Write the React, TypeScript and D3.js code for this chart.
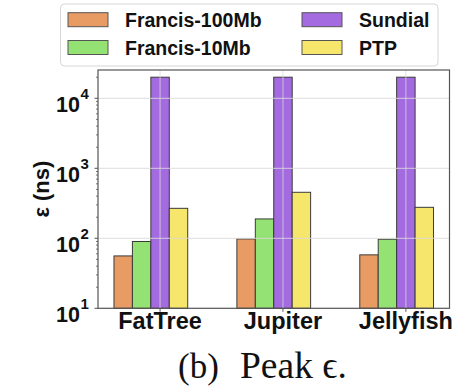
import React from "react";
import * as d3 from "d3";

const categories = ["FatTree", "Jupiter", "Jellyfish"];
const seriesNames = ["Francis-100Mb", "Francis-10Mb", "Sundial", "PTP"];
const francis100 = [56, 98, 58];
const francis10 = [90, 189, 97];
const sundial = [20000, 20000, 20000];
const ptp = [268, 454, 277];
const seriesValues = [francis100, francis10, sundial, ptp];
const colors = ["#E89C64", "#95E274", "#A46BE1", "#F6E76C"];
const majorTicks = [10, 100, 1000, 10000];
const exponents = ["1", "2", "3", "4"];

const W = 475;
const H = 391;
const left = 98;
const right = 449.5;
const top = 70;
const bottom = 308.3;
const barW = 0.15;

export default function App() {
  const x = d3.scaleLinear().domain([-0.505, 2.355]).range([left, right]);
  const y = d3.scaleLog().domain([10, 25350]).range([bottom, top]);
  const minor = y.ticks().filter((t) => !majorTicks.includes(t));
  const font = "'Liberation Sans', Arial, sans-serif";

  const legendItems = seriesNames.map((name, i) => ({
    name,
    color: colors[i],
    col: i < 2 ? 0 : 1,
    row: i % 2,
  }));

  return (
    <svg
      width={W}
      height={H}
      style={{ position: "absolute", left: 0, top: 0, background: "#fff" }}
    >
      {/* bars */}
      {categories.map((c, gi) =>
        seriesValues.map((vals, si) => {
          const cx = gi + (si - 2) * barW;
          const x0 = x(cx - barW / 2);
          const x1 = x(cx + barW / 2);
          return (
            <rect
              key={c + si}
              x={x0}
              y={y(vals[gi])}
              width={x1 - x0}
              height={bottom - y(vals[gi])}
              fill={colors[si]}
              stroke="#3a3a3a"
              strokeWidth={1}
            />
          );
        })
      )}
      {/* grid */}
      {majorTicks.slice(1).map((t) => (
        <line
          key={"gy" + t}
          x1={left}
          x2={right}
          y1={y(t)}
          y2={y(t)}
          stroke="#d8d8d8"
          strokeOpacity={0.7}
          strokeWidth={1.3}
        />
      ))}
      {categories.map((c, gi) => (
        <line
          key={"gx" + c}
          x1={x(gi)}
          x2={x(gi)}
          y1={top}
          y2={bottom}
          stroke="#d8d8d8"
          strokeOpacity={0.6}
          strokeWidth={1.3}
        />
      ))}
      {/* frame */}
      <rect
        x={left}
        y={top}
        width={right - left}
        height={bottom - top}
        fill="none"
        stroke="#555"
        strokeWidth={1.2}
      />
      {/* y ticks */}
      {minor.map((t) => (
        <line
          key={"mt" + t}
          x1={left - 2}
          x2={left}
          y1={y(t)}
          y2={y(t)}
          stroke="#555"
          strokeWidth={0.8}
        />
      ))}
      {majorTicks.map((t, i) => (
        <g key={"yt" + t}>
          <line
            x1={left - 3.5}
            x2={left}
            y1={y(t)}
            y2={y(t)}
            stroke="#555"
            strokeWidth={1}
          />
          <text
            x={80}
            y={y(t) + 13.5}
            textAnchor="end"
            fontFamily={font}
            fontWeight="bold"
            fontSize={21.5}
            fill="#111"
          >
            10
          </text>
          <text
            x={80.5}
            y={y(t) + 1}
            textAnchor="start"
            fontFamily={font}
            fontWeight="bold"
            fontSize={15}
            fill="#111"
          >
            {exponents[i]}
          </text>
        </g>
      ))}
      {/* x ticks */}
      {categories.map((c, gi) => (
        <g key={"xt" + c}>
          <line
            x1={x(gi)}
            x2={x(gi)}
            y1={bottom}
            y2={bottom + 3.5}
            stroke="#555"
            strokeWidth={1}
          />
          <text
            x={x(gi)}
            y={329}
            textAnchor="middle"
            fontFamily={font}
            fontWeight="bold"
            fontSize={23.5}
            fill="#111"
          >
            {c}
          </text>
        </g>
      ))}
      {/* y label */}
      <text
        transform={`translate(${49},${(top + bottom) / 2}) rotate(-90)`}
        textAnchor="middle"
        fontFamily={font}
        fontWeight="bold"
        fontSize={22}
        fill="#111"
      >
        ε (ns)
      </text>
      {/* legend */}
      <rect
        x={60.5}
        y={4}
        width={377.5}
        height={62}
        rx={4}
        fill="#fff"
        fillOpacity={0.9}
        stroke="#d6d6d6"
        strokeWidth={1}
      />
      {legendItems.map((it) => {
        const px = it.col === 0 ? 68 : 302;
        const tx = it.col === 0 ? 125 : 359;
        const py = it.row === 0 ? 12.7 : 40.5;
        return (
          <g key={it.name}>
            <rect
              x={px}
              y={py}
              width={40}
              height={14}
              fill={it.color}
              stroke="#555"
              strokeWidth={1}
            />
            <text
              x={tx}
              y={py + 14}
              fontFamily={font}
              fontWeight="bold"
              fontSize={19.5}
              fill="#111"
            >
              {it.name}
            </text>
          </g>
        );
      })}
      {/* caption */}
      <text
        x={178}
        y={378}
        fontFamily="'Liberation Serif', 'DejaVu Serif', serif"
        fontSize={35}
        fill="#111"
      >
        (b)
      </text>
      <text
        x={240}
        y={378}
        fontFamily="'Liberation Serif', 'DejaVu Serif', serif"
        fontSize={37.5}
        fill="#111"
      >
        Peak ϵ.
      </text>
    </svg>
  );
}
